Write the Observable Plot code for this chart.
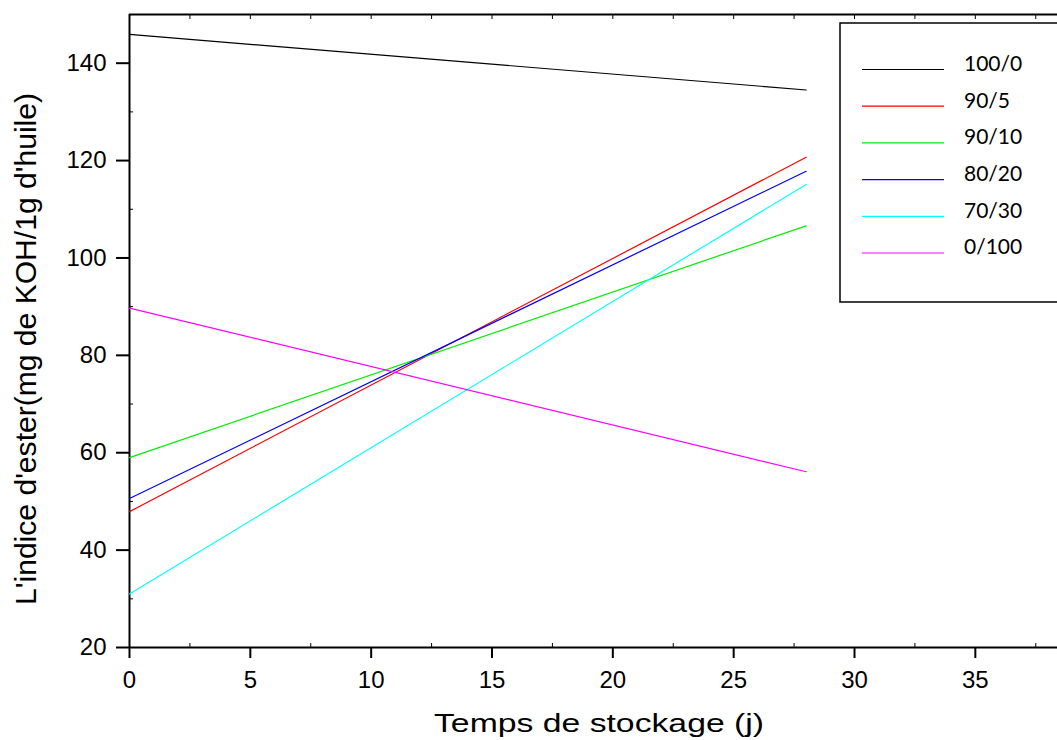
<!DOCTYPE html>
<html>
<head>
<meta charset="utf-8">
<script src="https://cdn.jsdelivr.net/npm/d3@7"></script>
<script src="https://cdn.jsdelivr.net/npm/@observablehq/plot@0.6"></script>
<style>
  html, body { margin: 0; padding: 0; background: #fff; }
  #chart { width: 1057px; height: 740px; overflow: hidden; }
</style>
</head>
<body>
<div id="chart"></div>
<script>
// ---- data ----
const days = [0, 28];
const series = ["100/0", "90/5", "90/10", "80/20", "70/30", "0/100"];
const colors = ["#000000", "#ff0000", "#00ee00", "#0000ff", "#00ffff", "#ff00ff"];
const v100_0 = [145.9, 134.5];
const v90_5  = [47.9, 120.7];
const v90_10 = [59.0, 106.6];
const v80_20 = [50.6, 117.8];
const v70_30 = [31.0, 115.1];
const v0_100 = [89.7, 56.1];
const xTicks = [0, 5, 10, 15, 20, 25, 30, 35];
const xMinor = [2.5, 7.5, 12.5, 17.5, 22.5, 27.5, 32.5, 37.5];
const xTop = [2.5, 5, 7.5, 10, 12.5, 15, 17.5, 20, 22.5, 25, 27.5, 30, 32.5, 35, 37.5];
const yTicks = [20, 40, 60, 80, 100, 120, 140];
const yMinor = [30, 50, 70, 90, 110, 130];
const xLabel = "Temps de stockage (j)";
const yLabel = "L'indice d'ester(mg de KOH/1g d'huile)";

const values = [v100_0, v90_5, v90_10, v80_20, v70_30, v0_100];
const rows = [];
series.forEach((s, i) => days.forEach((d, j) => rows.push({series: s, day: d, value: values[i][j]})));

const plot = Plot.plot({
  width: 1057,
  height: 740,
  marginLeft: 129,
  marginRight: 0,
  marginTop: 14,
  marginBottom: 93,
  style: {fontFamily: "'Liberation Sans', Arial, sans-serif", fontSize: "24px", color: "#000", background: "#fff", overflow: "visible"},
  x: {domain: [0, 38.4]},
  y: {domain: [20, 150]},
  color: {domain: series, range: colors},
  marks: [
    Plot.axisX({ticks: xTicks, tickSize: 11, tickPadding: 12, label: null, strokeWidth: 2, fontSize: 24}),
    Plot.axisX({ticks: xMinor, tickSize: -4, tickFormat: () => "", label: null, strokeWidth: 1}),
    Plot.axisX({anchor: "top", ticks: xTop, tickSize: -4, tickFormat: () => "", label: null, strokeWidth: 1}),
    Plot.axisY({ticks: yTicks, tickSize: 13, tickPadding: 10, label: null, strokeWidth: 2, fontSize: 24}),
    Plot.axisY({ticks: yMinor, tickSize: -4, tickFormat: () => "", label: null, strokeWidth: 1}),
    Plot.ruleX([0], {strokeWidth: 2}),
    Plot.ruleY([20], {strokeWidth: 2}),
    Plot.ruleY([150], {strokeWidth: 2}),
    Plot.line(rows, {x: "day", y: "value", z: "series", stroke: "series", strokeWidth: 1.2})
  ]
});

const svg = d3.select(plot);

// axis titles
svg.append("text")
  .attr("x", 599).attr("y", 732)
  .attr("text-anchor", "middle")
  .attr("font-family", "'Liberation Sans', Arial, sans-serif")
  .attr("font-size", 26)
  .attr("textLength", 330).attr("lengthAdjust", "spacingAndGlyphs")
  .attr("fill", "#000")
  .text(xLabel);

svg.append("text")
  .attr("transform", "translate(36,349) rotate(-90) scale(1,1.1)")
  .attr("text-anchor", "middle")
  .attr("font-family", "'Liberation Sans', Arial, sans-serif")
  .attr("font-size", 27)
  .attr("textLength", 512).attr("lengthAdjust", "spacingAndGlyphs")
  .attr("fill", "#000")
  .text(yLabel);

// legend
const lg = svg.append("g");
lg.append("rect")
  .attr("x", 840).attr("y", 23).attr("width", 240).attr("height", 279)
  .attr("fill", "#fff").attr("stroke", "#000").attr("stroke-width", 1.5);
series.forEach((s, i) => {
  const yy = 69.5 + i * 36.7;
  lg.append("line")
    .attr("x1", 862).attr("x2", 944).attr("y1", yy).attr("y2", yy)
    .attr("stroke", colors[i]).attr("stroke-width", 1.2);
  lg.append("text")
    .attr("x", 964).attr("y", yy - 6)
    .attr("dy", "0.35em")
    .attr("text-anchor", "start")
    .attr("font-family", "Lato, 'Open Sans', sans-serif")
    .attr("font-size", 21)
    .attr("fill", "#000")
    .text(s);
});

document.getElementById("chart").appendChild(plot);
</script>
</body>
</html>
